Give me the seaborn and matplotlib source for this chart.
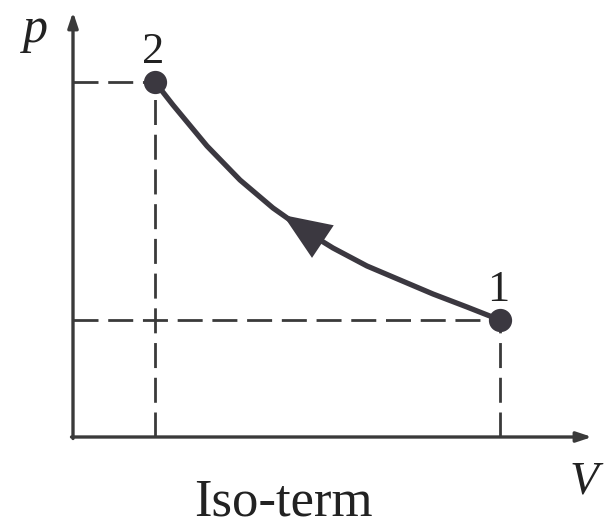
import numpy as np
import pandas as pd
import seaborn as sns
import matplotlib.pyplot as plt

sns.set_style("white")
plt.rcParams['font.family'] = ['Liberation Serif', 'DejaVu Serif']

# isotherm (V, p in arbitrary units)
V = [0.82, 1.00, 1.34, 1.67, 2.00, 2.34, 2.60, 2.94, 3.27, 3.60, 3.94, 4.27]
p = [3.55, 3.32, 2.91, 2.57, 2.29, 2.05, 1.89, 1.71, 1.57, 1.43, 1.30, 1.17]
state_labels = ["2", "1"]
state_V = [0.82, 4.27]
state_p = [3.55, 1.17]
title = "Iso-term"

df = pd.DataFrame({"V": V, "p": p})
states = pd.DataFrame({"V": state_V, "p": state_p, "state": state_labels})

ink = "#3b3840"
axis_ink = "#3a3a3a"
text_ink = "#222222"

fig = plt.figure(figsize=(6.1, 5.29), dpi=100)
ax = fig.add_axes([0, 0, 1, 1])

# dashed guides to the axes
for v0, p0 in zip(state_V, state_p):
    ax.plot([0, v0], [p0, p0], ls=(0, (9, 3.5)), lw=2, color=axis_ink)
    ax.plot([v0, v0], [0, p0], ls=(0, (9, 3.5)), lw=2, color=axis_ink)

# axes with arrows
ax.annotate("", xy=(5.19, 0), xytext=(-0.015, 0),
            arrowprops=dict(arrowstyle="-|>,head_length=0.9,head_width=0.3",
                            lw=2.4, color=axis_ink, shrinkA=0, shrinkB=0))
ax.annotate("", xy=(0, 4.25), xytext=(0, -0.015),
            arrowprops=dict(arrowstyle="-|>,head_length=0.9,head_width=0.3",
                            lw=2.4, color=axis_ink, shrinkA=0, shrinkB=0))

sns.lineplot(data=df, x="V", y="p", ax=ax, color=ink, lw=3.8, sort=False,
             solid_joinstyle="round", solid_capstyle="round")
sns.scatterplot(data=states, x="V", y="p", ax=ax, color=ink, s=240,
                edgecolor=ink, zorder=5, legend=False)

# direction arrow on the curve (1 -> 2)
ax.annotate("", xy=(2.10, 2.22), xytext=(2.55, 1.92),
            arrowprops=dict(arrowstyle="-|>,head_length=1.15,head_width=0.47",
                            lw=0, color=ink, shrinkA=0, shrinkB=0,
                            mutation_scale=30))

for lab, v0, p0 in zip(state_labels, state_V, state_p):
    ax.text(v0 - 0.02, p0 + 0.19, lab, fontsize=32, ha="center",
            va="baseline", color=text_ink)

ax.text(-0.38, 4.07, "p", fontsize=36, style="italic", ha="center",
        va="center", color=text_ink)
ax.text(5.11, -0.45, "V", fontsize=34, style="italic", ha="center",
        va="center", color=text_ink)
ax.text(2.10, -0.79, title, fontsize=38, ha="center", va="baseline",
        color=text_ink)

ax.set_xlim(-0.73, 5.37)
ax.set_ylim(-0.92, 4.37)
ax.set_xlabel("")
ax.set_ylabel("")
ax.set_xticks([])
ax.set_yticks([])
sns.despine(ax=ax, left=True, bottom=True)

fig.savefig("out.png", dpi=100)
